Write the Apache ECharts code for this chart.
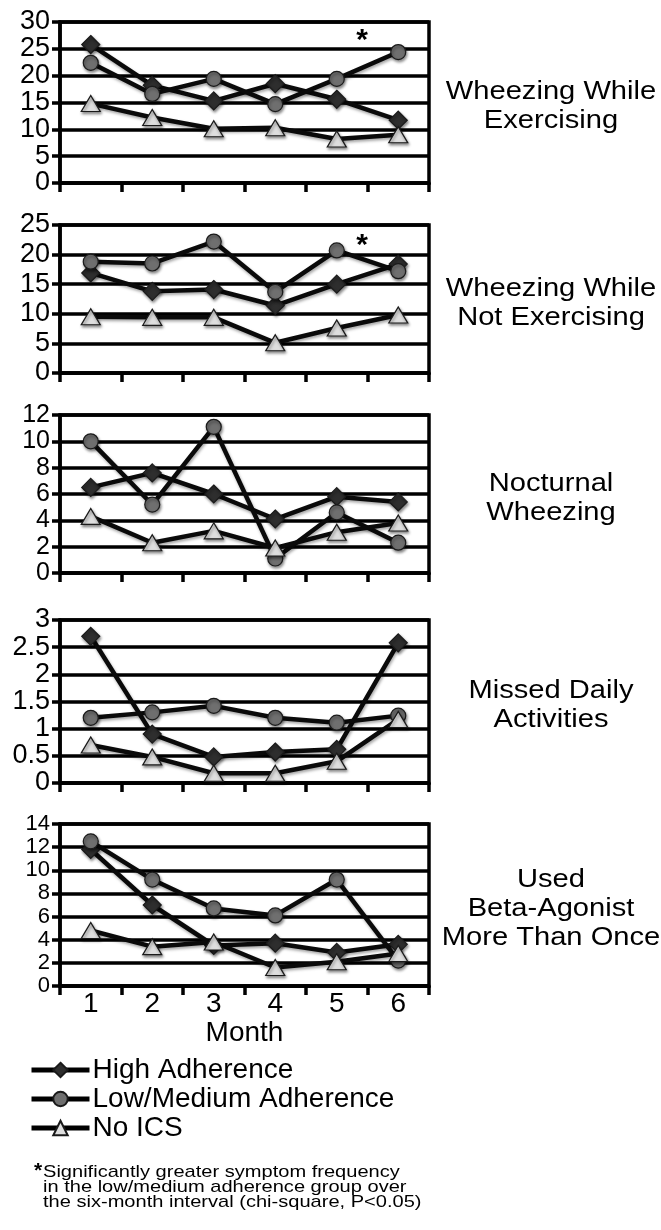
<!DOCTYPE html>
<html>
<head>
<meta charset="utf-8">
<script src="https://cdn.jsdelivr.net/npm/echarts@6/dist/echarts.min.js"></script>
<style>
  html, body { margin: 0; padding: 0; background: #fff; }
  #main { width: 661px; height: 1230px; }
</style>
</head>
<body>
<div id="main"></div>
<script>
// categories
var months = ['1', '2', '3', '4', '5', '6'];
var groupNames = ['High Adherence', 'Low/Medium Adherence', 'No ICS'];

// panel titles (right hand side)
var panelTitles = [
  'Wheezing While\nExercising',
  'Wheezing While\nNot Exercising',
  'Nocturnal\nWheezing',
  'Missed Daily\nActivities',
  'Used\nBeta-Agonist\nMore Than Once'
];

// y scales
var yMax = [30, 25, 12, 3, 14];
var yStep = [5, 5, 2, 0.5, 2];

// Wheezing while exercising
var exHigh = [25.8, 18.2, 15.3, 18.5, 15.6, 11.7];
var exLow = [22.4, 16.6, 19.4, 14.7, 19.4, 24.4];
var exNone = [14.8, 12.2, 10.1, 10.3, 8.2, 9.0];

// Wheezing while not exercising
var notExHigh = [16.9, 13.8, 14.1, 11.4, 15.0, 18.4];
var notExLow = [18.8, 18.5, 22.2, 13.7, 20.7, 17.2];
var notExNone = [9.5, 9.4, 9.4, 5.1, 7.6, 9.8];

// Nocturnal wheezing
var noctHigh = [6.5, 7.6, 6.0, 4.1, 5.8, 5.4];
var noctLow = [10.0, 5.2, 11.1, 1.1, 4.6, 2.3];
var noctNone = [4.3, 2.3, 3.2, 1.9, 3.1, 3.8];

// Missed daily activities
var missHigh = [2.7, 0.9, 0.48, 0.57, 0.62, 2.58];
var missLow = [1.2, 1.3, 1.42, 1.2, 1.11, 1.24];
var missNone = [0.7, 0.48, 0.18, 0.18, 0.4, 1.17];

// Used beta-agonist more than once
var betaHigh = [11.8, 7.0, 3.5, 3.7, 2.9, 3.6];
var betaLow = [12.5, 9.2, 6.7, 6.1, 9.2, 2.2];
var betaNone = [4.8, 3.4, 3.8, 1.6, 2.1, 2.8];

var panelData = [
  [exHigh, exLow, exNone],
  [notExHigh, notExLow, notExNone],
  [noctHigh, noctLow, noctNone],
  [missHigh, missLow, missNone],
  [betaHigh, betaLow, betaNone]
];

var FONT = '"Liberation Sans", Arial, Helvetica, sans-serif';
var gridTops = [22, 225, 415, 620, 824];
var gridHeights = [161, 148, 158, 163, 162];
// tight panels need a smaller label font, otherwise echarts drops labels
var yLabelSize = [27, 27, 25, 27, 22];

var markerStyles = [
  { symbol: 'diamond', symbolSize: 18, color: '#2e2e2e' },
  { symbol: 'circle', symbolSize: 15, color: '#6f6f6f' },
  { symbol: 'triangle', symbolSize: [19, 16], color: '#dedede' }
];

var blackLine = { color: '#000', width: 3.5 };

var grid = [], xAxis = [], yAxis = [], series = [], graphic = [];

for (var i = 0; i < 5; i++) {
  grid.push({
    left: 60, width: 369, top: gridTops[i], height: gridHeights[i],
    show: true, borderColor: '#000', borderWidth: 3.5
  });
  xAxis.push({
    type: 'category',
    gridIndex: i,
    data: months,
    boundaryGap: true,
    axisLine: { lineStyle: blackLine },
    axisTick: { show: true, length: 9, lineStyle: blackLine },
    axisLabel: { show: i === 4, fontSize: 28, color: '#000', fontFamily: FONT, margin: 4 },
    name: i === 4 ? 'Month' : '',
    nameLocation: 'middle',
    nameGap: 31,
    nameTextStyle: { fontSize: 28, color: '#000', fontFamily: FONT }
  });
  yAxis.push({
    type: 'value',
    gridIndex: i,
    min: 0,
    max: yMax[i],
    interval: yStep[i],
    axisLine: { show: true, lineStyle: blackLine },
    axisTick: { show: true, length: 8, lineStyle: blackLine },
    splitLine: { show: true, lineStyle: blackLine },
    axisLabel: {
      fontSize: yLabelSize[i], color: '#000', fontFamily: FONT, margin: 10,
      showMinLabel: true, showMaxLabel: true
    }
  });
  for (var s = 0; s < 3; s++) {
    series.push({
      name: groupNames[s],
      type: 'line',
      xAxisIndex: i,
      yAxisIndex: i,
      data: panelData[i][s],
      symbol: markerStyles[s].symbol,
      symbolSize: markerStyles[s].symbolSize,
      z: 3 + s,
      lineStyle: {
        color: '#0a0a0a', width: 4.5,
        shadowColor: 'rgba(0,0,0,0.35)', shadowBlur: 3, shadowOffsetX: 1, shadowOffsetY: 2
      },
      itemStyle: {
        color: markerStyles[s].color, borderColor: '#1a1a1a', borderWidth: 1.2,
        shadowColor: 'rgba(0,0,0,0.45)', shadowBlur: 3, shadowOffsetX: 1, shadowOffsetY: 2
      },
      emphasis: { disabled: true },
      animation: false
    });
  }
  graphic.push({
    type: 'text',
    x: 551,
    y: gridTops[i] + gridHeights[i] / 2 + 4,
    scaleX: 1.12,
    style: {
      text: panelTitles[i],
      font: '26px ' + FONT,
      fill: '#000',
      align: 'center',
      verticalAlign: 'middle',
      lineHeight: 29
    }
  });
}

// significance markers
graphic.push({
  type: 'text', x: 362, y: 41,
  style: { text: '*', font: 'bold 30px ' + FONT, fill: '#000', align: 'center', verticalAlign: 'middle' }
});
graphic.push({
  type: 'text', x: 362, y: 246,
  style: { text: '*', font: 'bold 30px ' + FONT, fill: '#000', align: 'center', verticalAlign: 'middle' }
});

// footnote
graphic.push({
  type: 'text', x: 34, y: 1161,
  style: { text: '*', font: 'bold 21px ' + FONT, fill: '#000' }
});
graphic.push({
  type: 'text', x: 43, y: 1165,
  scaleX: 1.18,
  style: {
    text: 'Significantly greater symptom frequency\nin the low/medium adherence group over\nthe six-month interval (chi-square, P<0.05)',
    font: '17px ' + FONT,
    fill: '#000',
    lineHeight: 15
  }
});

var chart = echarts.init(document.getElementById('main'));
chart.setOption({
  backgroundColor: '#fff',
  animation: false,
  grid: grid,
  xAxis: xAxis,
  yAxis: yAxis,
  legend: {
    orient: 'vertical',
    left: 24,
    top: 1051,
    itemWidth: 58,
    itemHeight: 18,
    itemGap: 1,
    selectedMode: false,
    data: groupNames,
    lineStyle: { width: 5, color: '#000' },
    textStyle: { fontSize: 28, color: '#000', fontFamily: FONT, padding: [0, 0, 0, -2] }
  },
  series: series,
  graphic: graphic
});
</script>
</body>
</html>
